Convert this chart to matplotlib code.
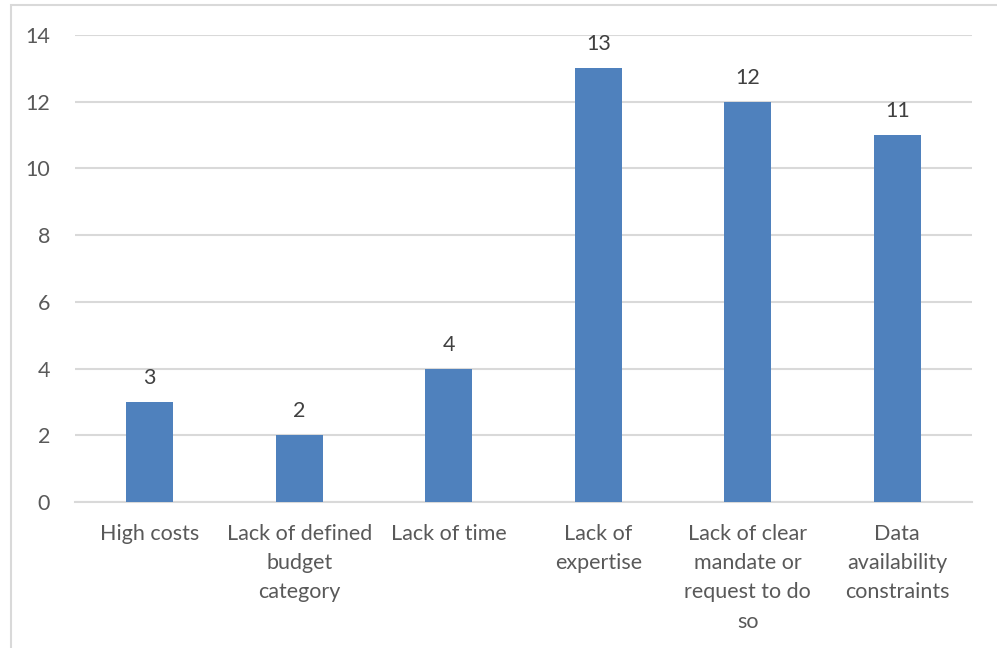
import matplotlib.pyplot as plt
from matplotlib.patches import Rectangle

categories = ['High costs', 'Lack of defined\nbudget\ncategory', 'Lack of time',
              'Lack of\nexpertise', 'Lack of clear\nmandate or\nrequest to do\nso',
              'Data\navailability\nconstraints']
values = [3, 2, 4, 13, 12, 11]
yticks = [0, 2, 4, 6, 8, 10, 12, 14]

plt.rcParams['font.family'] = ['Lato', 'DejaVu Sans']

W, H = 997, 648
fig = plt.figure(figsize=(W / 100, H / 100), dpi=100)
ax = fig.add_axes([75 / W, 1 - 502 / H, (972 - 75) / W, (502 - 35) / H])

# outer chart border
fig.patches.append(Rectangle((11 / W, -0.1), 1.2, 1 - 5 / H + 0.1, transform=fig.transFigure,
                             fill=False, edgecolor='#D9D9D9', linewidth=1.5))

x = range(len(values))
ax.bar(x, values, width=0.315, color='#4F81BD', zorder=3)
for i, v in zip(x, values):
    ax.annotate(str(v), (i, v), xytext=(0, 10), textcoords='offset points',
                ha='center', va='bottom', fontsize=15.5, color='#404040')

ax.set_xlim(-0.5, len(values) - 0.5)
ax.set_ylim(0, 14)
ax.set_yticks(yticks)
ax.set_xticks(list(x))
ax.set_xticklabels(categories, linespacing=1.57)
ax.tick_params(axis='both', length=0, labelsize=15.5, labelcolor='#595959')
ax.tick_params(axis='x', pad=16)
ax.tick_params(axis='y', pad=18)
ax.grid(axis='y', color='#D9D9D9', linewidth=1.5, zorder=0)
for s in ['top', 'right', 'left']:
    ax.spines[s].set_visible(False)
ax.spines['bottom'].set_color('#D9D9D9')
ax.spines['bottom'].set_linewidth(1.5)

fig.savefig('out.png', dpi=100)
